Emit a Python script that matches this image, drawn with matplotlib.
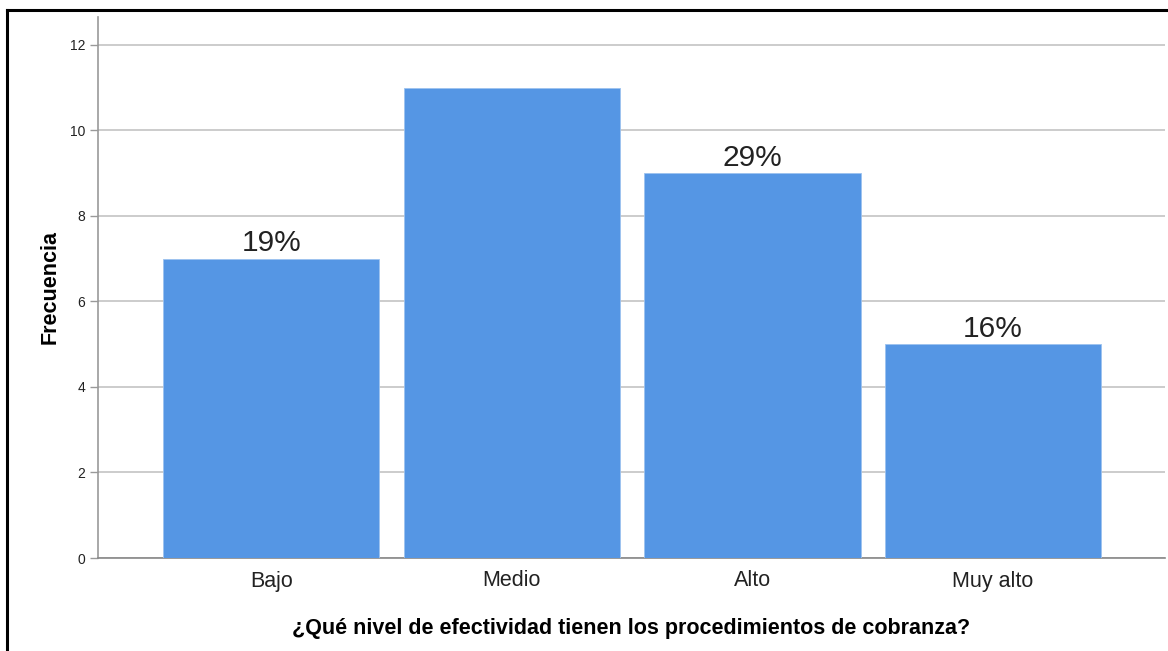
import matplotlib
matplotlib.use("Agg")
import matplotlib.pyplot as plt
from matplotlib.lines import Line2D

categorias = ["Bajo", "Medio", "Alto", "Muy alto"]
frecuencias = [7, 11, 9, 5]
etiquetas = ["19%", "", "29%", "16%"]
yticks = [0, 2, 4, 6, 8, 10, 12]

plt.rcParams["font.family"] = ["Liberation Sans", "DejaVu Sans"]

fig = plt.figure(figsize=(11.68, 6.51), dpi=100)
ax = fig.add_axes([98 / 1168, 1 - 558 / 651, 1067 / 1168, 541 / 651])

x = list(range(len(categorias)))
ax.bar(x, frecuencias, width=0.9, color="#5596e4", edgecolor="#9cc2ef",
       linewidth=0.6, zorder=3)
for xi, v, lab in zip(x, frecuencias, etiquetas):
    if lab:
        ax.text(xi, v + 0.03, lab, ha="center", va="bottom", fontsize=21.5,
                color="#222222", zorder=4)

ax.set_xlim(-0.72, 3.715)
ax.set_ylim(0, 12.65)
ax.set_yticks(yticks)
ax.set_yticklabels([str(t) for t in yticks], fontsize=10, color="#222222")
ax.set_xticks(x)
ax.set_xticklabels(categorias, fontsize=15.5, color="#222222")
ax.tick_params(axis="y", length=6, width=1, color="#999999", pad=3)
ax.tick_params(axis="x", length=0, pad=9)
ax.yaxis.grid(True, color="#cccccc", linewidth=1.4, zorder=0)
ax.set_axisbelow(True)
for s in ("top", "right"):
    ax.spines[s].set_visible(False)
ax.spines["left"].set_color("#999999")
ax.spines["bottom"].set_color("#888888")
ax.spines["left"].set_linewidth(1.2)
ax.spines["bottom"].set_linewidth(1.2)

ax.set_ylabel("Frecuencia", fontsize=15.5, fontweight="bold", labelpad=7)
ax.set_xlabel("¿Qué nivel de efectividad tienen los procedimientos de cobranza?",
              fontsize=15.5, fontweight="bold", labelpad=19)

# marco superior e izquierdo del gráfico
fig.add_artist(Line2D([7 / 1168, 7 / 1168], [0, 1 - 10 / 651],
                      transform=fig.transFigure, color="black", linewidth=2.2))
fig.add_artist(Line2D([7 / 1168, 1], [1 - 10 / 651, 1 - 10 / 651],
                      transform=fig.transFigure, color="black", linewidth=2.2))

fig.savefig("out.png", dpi=100, facecolor="white")
